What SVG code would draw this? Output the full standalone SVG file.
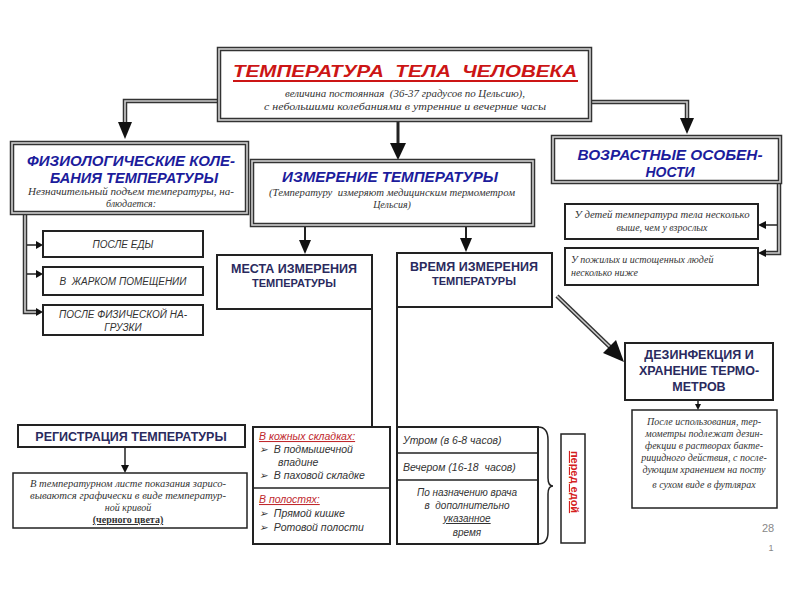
<svg xmlns="http://www.w3.org/2000/svg" width="800" height="600" viewBox="0 0 800 600">
<style>
.bg{fill:#fff}
.box{fill:#fff;stroke:#222;stroke-width:2}
.dbo{fill:#fff;stroke:#333;stroke-width:4.5}
.dbi{fill:none;stroke:#cfcfcf;stroke-width:1.6}
.lo{fill:none;stroke:#333;stroke-width:4.5}
.li{fill:none;stroke:#ccc;stroke-width:1.6}
.ln{fill:none;stroke:#222;stroke-width:2}
.ah{fill:#111}
.hb{font-family:"Liberation Sans",Arial,sans-serif;font-weight:bold;font-style:italic;fill:#1c1c9c;text-anchor:middle}
.hn{font-family:"Liberation Sans",Arial,sans-serif;font-weight:bold;fill:#2a2a5e;text-anchor:middle}
.si{font-family:"Liberation Serif","Times New Roman",serif;font-style:italic;fill:#333;font-size:10px;text-anchor:middle}
.ci{font-family:"Liberation Sans",Arial,sans-serif;font-style:italic;fill:#333;font-size:10px;text-anchor:middle}
.li2{font-family:"Liberation Sans",Arial,sans-serif;font-style:italic;fill:#333;font-size:10.5px}
.red{font-family:"Liberation Sans",Arial,sans-serif;font-style:italic;fill:#c0282d;font-size:10.5px;text-decoration:underline}
</style>
<rect class="bg" x="0" y="0" width="800" height="600"/>

<g id="connectors">
  <path class="lo" d="M219,101 H125 V124"/><path class="li" d="M219,101 H125 V124"/>
  <polygon class="ah" points="118,122 132,122 125,139"/>
  <path class="lo" d="M590,102 H687 V120"/><path class="li" d="M590,102 H687 V120"/>
  <polygon class="ah" points="680,118 694,118 687,134"/>
  <path class="ln" d="M398,121 V146" style="stroke-width:3"/>
  <polygon class="ah" points="390,143 406,143 398,160"/>
  <path class="lo" d="M25,213 V312 H36"/><path class="li" d="M25,213 V312 H36"/>
  <path class="ln" d="M27,245 H38 M27,274 H38" style="stroke-width:1.5"/>
  <polygon class="ah" points="36,241 43,245 36,249"/>
  <polygon class="ah" points="36,270 43,274 36,278"/>
  <polygon class="ah" points="36,308 43,312 36,316"/>
  <path class="lo" d="M779,182 V253 H766"/><path class="li" d="M779,182 V253 H766"/>
  <path class="ln" d="M777,225 H764" style="stroke-width:1.5"/>
  <polygon class="ah" points="766,221 758,225 766,229"/>
  <polygon class="ah" points="766,249 758,253 766,257"/>
  <path class="ln" d="M305,226 V242"/>
  <polygon class="ah" points="299,240 311,240 305,254"/>
  <path class="ln" d="M466,226 V240"/>
  <polygon class="ah" points="460,238 472,238 466,252"/>
  <path class="ln" d="M372,309 V427"/>
  <path class="ln" d="M397,307 V427"/>
  <path class="lo" d="M557,296 L610,347"/><path class="li" d="M557,296 L610,347"/>
  <polygon class="ah" points="603,353 616,340 624,362"/>
  <path class="ln" d="M125,447 V466" style="stroke-width:1.5"/>
  <polygon class="ah" points="121,465 129,465 125,473"/>
  <path class="ln" d="M698,400 V406" style="stroke-width:1.5"/>
  <polygon class="ah" points="695,404 701,404 698,410"/>
  <path class="ln" d="M538,427 Q548,427 548,440 V478 Q548,486 553,486 Q548,486 548,494 V532 Q548,544 538,544" style="stroke-width:1.5"/>
</g>

<g id="title">
  <rect class="dbo" x="219" y="49" width="371" height="71"/>
  <rect class="dbi" x="219" y="49" width="371" height="71"/>
  <text x="405" y="77" font-family="Liberation Sans,Arial,sans-serif" font-weight="bold" font-style="italic" font-size="17" fill="#cc1515" text-anchor="middle" textLength="344" lengthAdjust="spacingAndGlyphs">ТЕМПЕРАТУРА&#160;&#160;ТЕЛА&#160;&#160;ЧЕЛОВЕКА</text>
  <line x1="233" y1="81" x2="578" y2="81" stroke="#cc1515" stroke-width="2"/>
  <text class="si" x="405" y="97" font-size="9.5" textLength="240" lengthAdjust="spacingAndGlyphs">величина постоянная&#160;&#160;(36-37 градусов по Цельсию),</text>
  <text class="si" x="405" y="110" font-size="9.5" textLength="282" lengthAdjust="spacingAndGlyphs">с небольшими колебаниями в утренние и вечерние часы</text>
</g>

<g id="physio">
  <rect class="dbo" x="12" y="143" width="235" height="70"/>
  <rect class="dbi" x="12" y="143" width="235" height="70"/>
  <text class="hb" x="131" y="166" font-size="14.5" textLength="208" lengthAdjust="spacingAndGlyphs">ФИЗИОЛОГИЧЕСКИЕ КОЛЕ-</text>
  <text class="hb" x="134" y="183" font-size="14.5" textLength="168" lengthAdjust="spacingAndGlyphs">БАНИЯ ТЕМПЕРАТУРЫ</text>
  <text class="si" x="131" y="195" textLength="206" lengthAdjust="spacingAndGlyphs">Незначительный подъем температуры, на-</text>
  <text class="si" x="131" y="207">блюдается:</text>
</g>
<g id="after-meal">
  <rect class="box" x="43" y="231" width="160" height="26"/>
  <text class="ci" x="123" y="248">ПОСЛЕ ЕДЫ</text>
</g>
<g id="hot-room">
  <rect class="box" x="43" y="267" width="160" height="28"/>
  <text class="ci" x="123" y="285">В&#160;&#160;ЖАРКОМ ПОМЕЩЕНИИ</text>
</g>
<g id="after-exercise">
  <rect class="box" x="43" y="305" width="160" height="30"/>
  <text class="ci" x="123" y="318">ПОСЛЕ ФИЗИЧЕСКОЙ НА-</text>
  <text class="ci" x="123" y="331">ГРУЗКИ</text>
</g>

<g id="measure">
  <rect class="dbo" x="252" y="161" width="281" height="64"/>
  <rect class="dbi" x="252" y="161" width="281" height="64"/>
  <text class="hb" x="390" y="182" font-size="15" textLength="216" lengthAdjust="spacingAndGlyphs">ИЗМЕРЕНИЕ ТЕМПЕРАТУРЫ</text>
  <text class="si" x="392" y="196" textLength="246" lengthAdjust="spacingAndGlyphs">(Температуру&#160;&#160;измеряют медицинским термометром</text>
  <text class="si" x="392" y="208">Цельсия)</text>
</g>

<g id="age">
  <rect class="dbo" x="553" y="137" width="227" height="45"/>
  <rect class="dbi" x="553" y="137" width="227" height="45"/>
  <text class="hb" x="670" y="160" font-size="14" textLength="185" lengthAdjust="spacingAndGlyphs">ВОЗРАСТНЫЕ ОСОБЕН-</text>
  <text class="hb" x="670" y="177" font-size="14">НОСТИ</text>
</g>
<g id="children">
  <rect class="box" x="565" y="204" width="193" height="35"/>
  <text class="si" x="662" y="218" textLength="175" lengthAdjust="spacingAndGlyphs">У детей температура тела несколько</text>
  <text class="si" x="662" y="231">выше, чем у взрослых</text>
</g>
<g id="elderly">
  <rect class="box" x="565" y="248" width="193" height="37"/>
  <text class="si" x="571" y="263" style="text-anchor:start">У пожилых и истощенных людей</text>
  <text class="si" x="571" y="276" style="text-anchor:start">несколько ниже</text>
</g>

<g id="places">
  <rect class="box" x="217" y="255" width="155" height="54"/>
  <text class="hn" x="294" y="273" font-size="12.5">МЕСТА ИЗМЕРЕНИЯ</text>
  <text class="hn" x="294" y="287" font-size="11">ТЕМПЕРАТУРЫ</text>
</g>
<g id="time">
  <rect class="box" x="397" y="253" width="155" height="54"/>
  <text class="hn" x="474" y="271" font-size="12.5">ВРЕМЯ ИЗМЕРЕНИЯ</text>
  <text class="hn" x="474" y="285" font-size="11">ТЕМПЕРАТУРЫ</text>
</g>

<g id="disinfection">
  <rect class="box" x="625" y="343" width="148" height="57"/>
  <text class="hn" x="699" y="359" font-size="12.5">ДЕЗИНФЕКЦИЯ И</text>
  <text class="hn" x="699" y="375" font-size="12.5">ХРАНЕНИЕ ТЕРМО-</text>
  <text class="hn" x="699" y="391" font-size="12.5">МЕТРОВ</text>
</g>
<g id="disinfection-text">
  <rect class="box" x="632" y="410" width="145" height="98" style="stroke-width:1.5"/>
  <text class="si" x="704" y="425">После использования, тер-</text>
  <text class="si" x="704" y="437">мометры подлежат дезин-</text>
  <text class="si" x="704" y="449">фекции в растворах бакте-</text>
  <text class="si" x="704" y="461">рицидного действия, с после-</text>
  <text class="si" x="704" y="473">дующим хранением на посту</text>
  <text class="si" x="704" y="488">в сухом виде в футлярах</text>
</g>

<g id="registration">
  <rect class="box" x="18" y="425" width="227" height="22"/>
  <text class="hn" x="131" y="441" font-size="12.5">РЕГИСТРАЦИЯ ТЕМПЕРАТУРЫ</text>
</g>
<g id="registration-text">
  <rect class="box" x="13" y="473" width="234" height="55" style="stroke-width:1.5"/>
  <text class="si" x="128" y="487" textLength="196" lengthAdjust="spacingAndGlyphs">В температурном листе показания зарисо-</text>
  <text class="si" x="128" y="499" textLength="196" lengthAdjust="spacingAndGlyphs">вываются графически в виде температур-</text>
  <text class="si" x="128" y="511">ной кривой</text>
  <text class="si" x="128" y="523" style="text-decoration:underline;font-style:normal;font-weight:bold">(черного цвета)</text>
</g>

<g id="places-list">
  <rect class="box" x="253" y="427" width="137" height="117"/>
  <line x1="253" y1="488" x2="390" y2="488" stroke="#222" stroke-width="1.5"/>
  <text class="red" x="259" y="440">В кожных складках:</text>
  <text class="li2" x="259" y="453">➢&#160;&#160;В подмышечной</text>
  <text class="li2" x="278" y="466">впадине</text>
  <text class="li2" x="259" y="479">➢&#160;&#160;В паховой складке</text>
  <text class="red" x="259" y="503">В полостях:</text>
  <text class="li2" x="259" y="517">➢&#160;&#160;Прямой кишке</text>
  <text class="li2" x="259" y="531">➢&#160;&#160;Ротовой полости</text>
</g>

<g id="time-list">
  <rect class="box" x="397" y="427" width="141" height="117"/>
  <line x1="397" y1="453" x2="538" y2="453" stroke="#222" stroke-width="1.5"/>
  <line x1="397" y1="480" x2="538" y2="480" stroke="#222" stroke-width="1.5"/>
  <text class="li2" x="403" y="444">Утром (в 6-8 часов)</text>
  <text class="li2" x="403" y="471">Вечером (16-18&#160;&#160;часов)</text>
  <text class="ci" x="467" y="496" font-size="10.5">По назначению врача</text>
  <text class="ci" x="467" y="509" font-size="10.5">в&#160;&#160;дополнительно</text>
  <text class="ci" x="467" y="522" font-size="10.5" style="text-decoration:underline">указанное</text>
  <text class="ci" x="467" y="536" font-size="10.5">время</text>
</g>

<g id="before-meal">
  <rect class="box" x="561" y="434" width="24" height="109" style="stroke-width:1.5"/>
  <text x="0" y="0" transform="translate(571,482) rotate(90)" font-family="Liberation Sans,Arial,sans-serif" font-weight="bold" font-size="11" fill="#d42020" text-anchor="middle" text-decoration="underline">перед едой</text>
</g>

<g id="page-numbers">
  <text x="768" y="532" font-family="Liberation Sans,Arial,sans-serif" font-size="11" fill="#888" text-anchor="middle">28</text>
  <text x="771" y="551" font-family="Liberation Sans,Arial,sans-serif" font-size="9" fill="#888" text-anchor="middle">1</text>
</g>
</svg>
